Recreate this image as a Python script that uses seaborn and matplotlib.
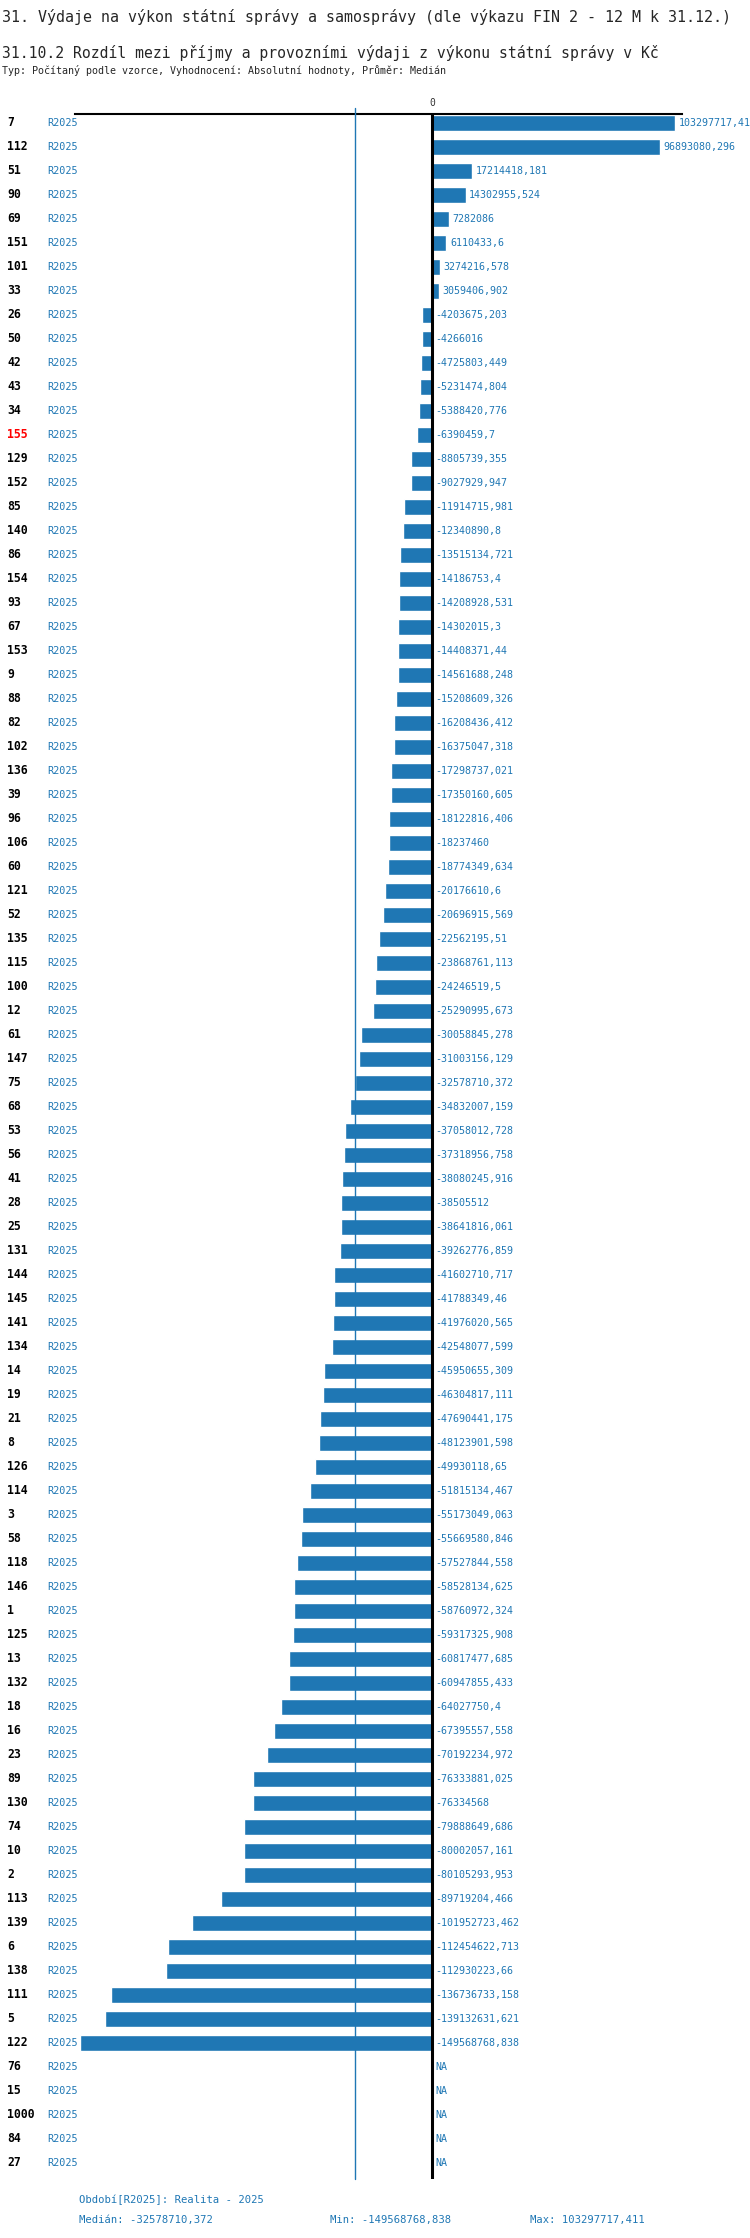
import numpy as np
import pandas as pd
import matplotlib
matplotlib.use("Agg")
import matplotlib.pyplot as plt
import matplotlib.transforms as mtransforms
import seaborn as sns

# data
categories = ["7", "112", "51", "90", "69", "151", "101", "33", "26", "50",
              "42", "43", "34", "155", "129", "152", "85", "140", "86", "154",
              "93", "67", "153", "9", "88", "82", "102", "136", "39", "96",
              "106", "60", "121", "52", "135", "115", "100", "12", "61", "147",
              "75", "68", "53", "56", "41", "28", "25", "131", "144", "145",
              "141", "134", "14", "19", "21", "8", "126", "114", "3", "58",
              "118", "146", "1", "125", "13", "132", "18", "16", "23", "89",
              "130", "74", "10", "2", "113", "139", "6", "138", "111", "5",
              "122", "76", "15", "1000", "84", "27"]

values = [103297717.411, 96893080.296, 17214418.181, 14302955.524, 7282086,
          6110433.6, 3274216.578, 3059406.902, -4203675.203, -4266016,
          -4725803.449, -5231474.804, -5388420.776, -6390459.7, -8805739.355,
          -9027929.947, -11914715.981, -12340890.8, -13515134.721, -14186753.4,
          -14208928.531, -14302015.3, -14408371.44, -14561688.248, -15208609.326,
          -16208436.412, -16375047.318, -17298737.021, -17350160.605, -18122816.406,
          -18237460, -18774349.634, -20176610.6, -20696915.569, -22562195.51,
          -23868761.113, -24246519.5, -25290995.673, -30058845.278, -31003156.129,
          -32578710.372, -34832007.159, -37058012.728, -37318956.758, -38080245.916,
          -38505512, -38641816.061, -39262776.859, -41602710.717, -41788349.46,
          -41976020.565, -42548077.599, -45950655.309, -46304817.111, -47690441.175,
          -48123901.598, -49930118.65, -51815134.467, -55173049.063, -55669580.846,
          -57527844.558, -58528134.625, -58760972.324, -59317325.908, -60817477.685,
          -60947855.433, -64027750.4, -67395557.558, -70192234.972, -76333881.025,
          -76334568, -79888649.686, -80002057.161, -80105293.953, -89719204.466,
          -101952723.462, -112454622.713, -112930223.66, -136736733.158, -139132631.621,
          -149568768.838, np.nan, np.nan, np.nan, np.nan, np.nan]

period = "R2025"
highlight = "155"

title = "31. Výdaje na výkon státní správy a samosprávy (dle výkazu FIN 2 - 12 M k 31.12.)"
subtitle = "31.10.2 Rozdíl mezi příjmy a provozními výdaji z výkonu státní správy v Kč"
info = "Typ: Počítaný podle vzorce, Vyhodnocení: Absolutní hodnoty, Průměr: Medián"
footer_period = "Období[R2025]: Realita - 2025"

blue = "#1f77b4"


def fmt(v):
    if np.isnan(v):
        return "NA"
    s = f"{v:.3f}".rstrip("0").rstrip(".")
    return s.replace(".", ",")


df = pd.DataFrame({"kod": categories, "hodnota": values})

sns.set_style("white")
plt.rcParams["font.family"] = ["DejaVu Sans Mono"]

W, H = 750, 2238
fig = plt.figure(figsize=(W / 100, H / 100), dpi=100)
ax_left, ax_right, ax_top, ax_bottom = 75, 682, 114, 2179
ax = fig.add_axes([ax_left / W, 1 - ax_bottom / H,
                   (ax_right - ax_left) / W, (ax_bottom - ax_top) / H])

sns.barplot(data=df, x="hodnota", y="kod", order=categories, orient="h",
            color=blue, saturation=1, width=0.66, errorbar=None, ax=ax)

vmin, vmax = np.nanmin(values), np.nanmax(values)
median = np.nanmedian(values)
rng = vmax - vmin
ax.set_xlim(vmin - 0.009 * rng, vmax + 0.012 * rng)
n = len(categories)
ax.set_ylim(n - 1 + 0.67, -0.375)

ax.set_xticks([])
ax.set_yticks([])
ax.set_xlabel("")
ax.set_ylabel("")
for side in ["left", "right", "bottom"]:
    ax.spines[side].set_visible(False)
ax.spines["top"].set_color("black")
ax.spines["top"].set_linewidth(1.5)

# zero line and median line
ax.axvline(0, color="black", lw=2.2, zorder=5)
ax.axvline(median, ymin=0, ymax=1.003, color=blue, lw=1, clip_on=False, zorder=4)
ax.text(0, 1.003, "0", transform=ax.get_xaxis_transform(), ha="center",
        va="bottom", fontsize=7, color="#333333")

# row labels
trans = mtransforms.blended_transform_factory(fig.transFigure, ax.transData)
for i, (cat, v) in enumerate(zip(categories, values)):
    ax.text(7 / W, i, cat, transform=trans, ha="left", va="center",
            fontsize=8.3, fontweight="bold",
            color="red" if cat == highlight else "black")
    ax.text(47 / W, i, period, transform=trans, ha="left", va="center",
            fontsize=7.3, color=blue)
    x0 = v if (not np.isnan(v) and v > 0) else 0
    ax.annotate(fmt(v), xy=(x0, i), xytext=(2.6, 0), textcoords="offset points",
                ha="left", va="center", fontsize=7.2, color=blue,
                annotation_clip=False)

# header
fig.text(0.002, 1 - 17 / H, title, ha="left", va="center", fontsize=10.8)
fig.text(0.002, 1 - 53 / H, subtitle, ha="left", va="center", fontsize=10.6)
fig.text(0.002, 1 - 71 / H, info, ha="left", va="center", fontsize=7.2)

# footer
fig.text(79 / W, 1 - 2200 / H, footer_period, ha="left", va="center",
         fontsize=7.6, color=blue)
fig.text(79 / W, 1 - 2220 / H, "Medián: " + fmt(median), ha="left", va="center",
         fontsize=7.6, color=blue)
fig.text(330 / W, 1 - 2220 / H, "Min: " + fmt(vmin), ha="left", va="center",
         fontsize=7.6, color=blue)
fig.text(530 / W, 1 - 2220 / H, "Max: " + fmt(vmax), ha="left", va="center",
         fontsize=7.6, color=blue)

fig.savefig("out.png", dpi=100)
